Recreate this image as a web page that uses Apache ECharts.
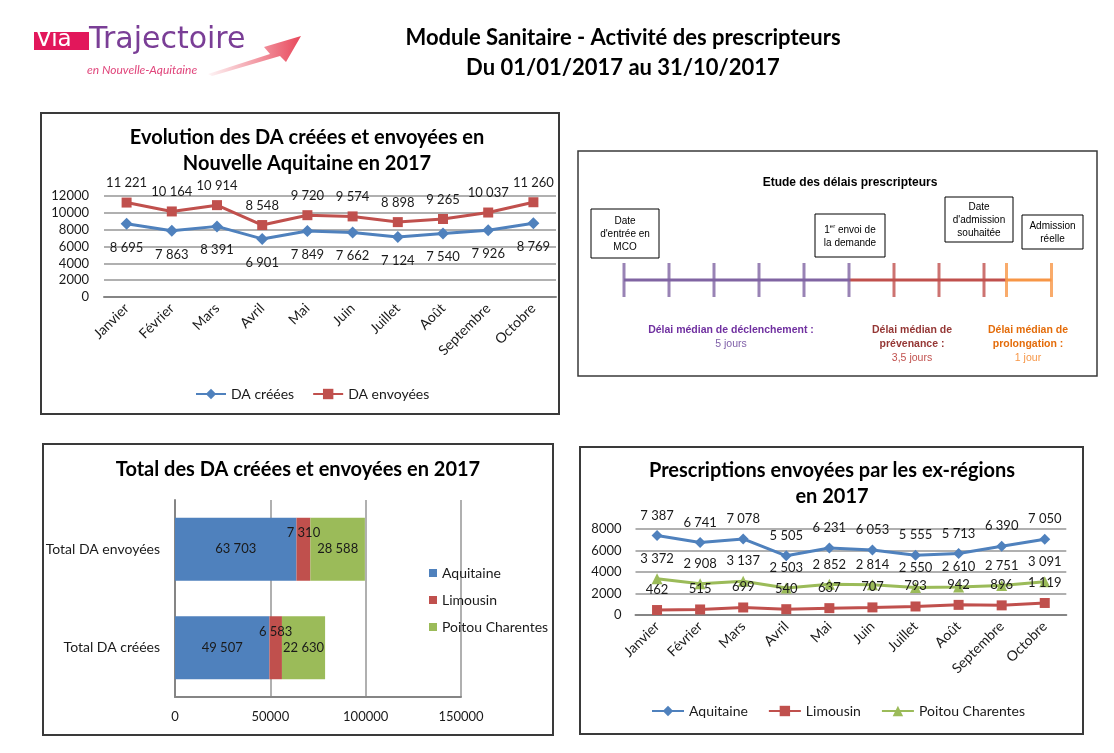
<!DOCTYPE html>
<html><head><meta charset="utf-8">
<script src="https://cdn.jsdelivr.net/npm/echarts@6/dist/echarts.min.js"></script>
<style>html,body{margin:0;padding:0;background:#fff}#c{width:1114px;height:753px}</style>
</head><body><div id="c"></div><script>
// ---- data ----
const months = ['Janvier','Février','Mars','Avril','Mai','Juin','Juillet','Août','Septembre','Octobre'];
const daCreees = [8695,7863,8391,6901,7849,7662,7124,7540,7926,8769];
const daEnvoyees = [11221,10164,10914,8548,9720,9574,8898,9265,10037,11260];
const regions = ['Aquitaine','Limousin','Poitou Charentes'];
const totalCategories = ['Total DA créées','Total DA envoyées'];
const totalAquitaine = [49507,63703];
const totalLimousin = [6583,7310];
const totalPoitou = [22630,28588];
const prescAquitaine = [7387,6741,7078,5505,6231,6053,5555,5713,6390,7050];
const prescLimousin = [462,515,699,540,637,707,793,942,896,1119];
const prescPoitou = [3372,2908,3137,2503,2852,2814,2550,2610,2751,3091];
const phaseNames = ['déclenchement','prévenance','prolongation'];
const phaseDays = [5,3.5,1];
const timelineTicks = [0,1,2,3,4,5,6,7,8,8.5,9.5];
const tickPhase = [0,0,0,0,0,0,1,1,1,2,2];
const milestones = ["Date\nd'entrée en\nMCO","{a|1}{s|er}{a| envoi de}\n{a|la demande}","Date\nd'admission\nsouhaitée","Admission\nréelle"];

// ---- helpers ----
const fmt = v => String(v).replace(/\B(?=(\d{3})+(?!\d))/g,' ');
const plain = v => String(v);
const F = 'Lato, "Open Sans", sans-serif';
const AF = '"Liberation Sans", Arial, sans-serif';
const cBlue = '#4F81BD', cRed = '#C0504D', cGreen = '#9BBB59';
const phaseColors = ['#8064A2','#C0504D','#F79646'];
const phaseTitleColors = ['#7030A0','#953735','#E46C0A'];
const phaseValColors = ['#7F5FA8','#C0504D','#F79646'];
const gridCol = '#969696', axisCol = '#858585';

const chart = echarts.init(document.getElementById('c'));

// timeline series
let starts = [], acc = 0;
phaseDays.forEach(d => { starts.push(acc); acc += d; });
const timelineSeries = phaseDays.map((d,i) => ({
  type:'line', xAxisIndex:3, yAxisIndex:3, symbol:'none', silent:true,
  lineStyle:{color:phaseColors[i], width:3},
  data:[[starts[i],0.5],[starts[i]+d,0.5]], z:2
}));
timelineSeries.push({
  type:'scatter', xAxisIndex:3, yAxisIndex:3, silent:true, z:3,
  symbol:'rect', symbolSize:[3,34],
  data: timelineTicks.map((t,i) => ({value:[t,0.5], itemStyle:{color:phaseColors[tickPhase[i]]}}))
});

const lineBase = (name, data, color, symbol, size, xi, pos, dist) => ({
  name, type:'line', xAxisIndex:xi, yAxisIndex:xi, data, symbol, symbolSize:size,
  color, lineStyle:{color, width:3}, itemStyle:{color, borderWidth:0},
  label:{show:true, position:pos, distance:dist, formatter:p=>fmt(p.value), color:'#1a1a1a', fontFamily:F, fontSize:13},
  animation:false
});

const barBase = (name, data, color, lblOffset) => ({
  name, type:'bar', stack:'tot', xAxisIndex:1, yAxisIndex:1, data, barWidth:63,
  itemStyle:{color}, animation:false,
  label:{show:true, position:'inside', offset:lblOffset, formatter:p=>fmt(p.value), color:'#1a1a1a', fontFamily:F, fontSize:13}
});

// phase texts
const phaseTextX = [731, 912, 1028];
const phaseTitles = ['Délai médian de '+phaseNames[0]+' :', 'Délai médian de\n'+phaseNames[1]+' :', 'Délai médian de\n'+phaseNames[2]+' :'];
const phaseGraphics = [];
phaseDays.forEach((d,i) => {
  const lines = phaseTitles[i].split('\n').length;
  phaseGraphics.push({type:'text', silent:true, style:{x:phaseTextX[i], y:323, text:phaseTitles[i], font:'bold 10.5px '+AF, fill:phaseTitleColors[i], align:'center', verticalAlign:'top', lineHeight:14}});
  phaseGraphics.push({type:'text', silent:true, style:{x:phaseTextX[i], y:323+14*lines, text:String(d).replace('.',',')+(d>1?' jours':' jour'), font:'10.5px '+AF, fill:phaseValColors[i], align:'center', verticalAlign:'top', lineHeight:14}});
});

const boxes = [
  {x:591,y:209,w:68,h:49},
  {x:815,y:214,w:70,h:43},
  {x:945,y:197,w:68,h:45},
  {x:1022,y:215,w:61,h:34}
];
const boxGraphics = [];
boxes.forEach((b,i) => {
  boxGraphics.push({type:'rect', silent:true, shape:{x:b.x,y:b.y,width:b.w,height:b.h}, style:{fill:'#fff', stroke:'#000', lineWidth:1}});
  const st = {x:b.x+b.w/2, y:b.y+b.h/2+1, text:milestones[i], font:'10px '+AF, fill:'#000', align:'center', verticalAlign:'middle', lineHeight:13};
  if (i === 1) st.rich = {a:{font:'10px '+AF, fill:'#000', lineHeight:13}, s:{font:'6px '+AF, fill:'#000', verticalAlign:'top', lineHeight:13}};
  boxGraphics.push({type:'text', silent:true, style:st});
});

const frame = (x,y,w,h,lw) => ({type:'rect', silent:true, shape:{x,y,width:w,height:h}, style:{fill:'none', stroke:'#3a3a3a', lineWidth:lw||2}});
const ttl = (x,y,text,size,lh) => ({type:'text', silent:true, style:{x,y,text,font:'bold '+size+'px '+F, fill:'#000', align:'center', verticalAlign:'middle', lineHeight:lh||size+6}});

const option = {
  backgroundColor:'#fff',
  animation:false,
  textStyle:{fontFamily:F},
  grid:[
    {left:104, top:196, width:452, height:101},
    {left:175, top:500, width:286, height:197},
    {left:635.5, top:529, width:430.8, height:86},
    {left:624, top:263, width:427.5, height:34}
  ],
  xAxis:[
    {gridIndex:0, type:'category', data:months, boundaryGap:true,
     axisLine:{lineStyle:{color:axisCol, width:2}}, axisTick:{show:false},
     axisLabel:{rotate:45, margin:9, fontSize:14, color:'#1a1a1a', fontFamily:F}},
    {gridIndex:1, type:'value', min:0, max:150000, interval:50000,
     axisLine:{show:true, lineStyle:{color:axisCol, width:2}}, axisTick:{show:false},
     splitLine:{lineStyle:{color:gridCol, width:1.5}},
     axisLabel:{margin:13, fontSize:13, color:'#1a1a1a', fontFamily:F, formatter:plain}},
    {gridIndex:2, type:'category', data:months, boundaryGap:true,
     axisLine:{lineStyle:{color:axisCol, width:2}}, axisTick:{show:false},
     axisLabel:{rotate:45, margin:9, fontSize:14, color:'#1a1a1a', fontFamily:F}},
    {gridIndex:3, type:'value', min:0, max:9.5, show:false}
  ],
  yAxis:[
    {gridIndex:0, type:'value', min:0, max:12000, interval:2000,
     axisLine:{show:false}, axisTick:{show:false},
     splitLine:{lineStyle:{color:gridCol, width:1.5}},
     axisLabel:{margin:15, fontSize:13, color:'#1a1a1a', fontFamily:F, formatter:plain}},
    {gridIndex:1, type:'category', data:totalCategories,
     axisLine:{show:true, lineStyle:{color:axisCol, width:2}}, axisTick:{show:false},
     axisLabel:{margin:15, fontSize:14, color:'#1a1a1a', fontFamily:F}},
    {gridIndex:2, type:'value', min:0, max:8000, interval:2000,
     axisLine:{show:false}, axisTick:{show:false},
     splitLine:{lineStyle:{color:gridCol, width:1.5}},
     axisLabel:{margin:14, fontSize:13, color:'#1a1a1a', fontFamily:F, formatter:plain}},
    {gridIndex:3, type:'value', min:0, max:1, show:false}
  ],
  legend:[
    {data:['DA créées','DA envoyées'], left:195, top:387, padding:0, itemWidth:30, itemHeight:13, itemGap:18,
     textStyle:{fontSize:14, color:'#1a1a1a', fontFamily:F}},
    {data:regions.map(r=>({name:r, icon:'rect'})), orient:'vertical', left:429, top:566, padding:0, itemWidth:8, itemHeight:8, itemGap:13,
     itemStyle:{borderWidth:0}, textStyle:{fontSize:14, color:'#1a1a1a', fontFamily:F}},
    {data:regions, left:651, top:704, padding:0, itemWidth:32, itemHeight:13, itemGap:20,
     textStyle:{fontSize:14, color:'#1a1a1a', fontFamily:F}}
  ],
  series:[
    lineBase('DA créées', daCreees, cBlue, 'diamond', 12, 0, 'bottom', 11),
    lineBase('DA envoyées', daEnvoyees, cRed, 'rect', 10, 0, 'top', 8),
    lineBase('Aquitaine', prescAquitaine, cBlue, 'diamond', 11, 2, 'top', 8),
    lineBase('Limousin', prescLimousin, cRed, 'rect', 10, 2, 'top', 9),
    lineBase('Poitou Charentes', prescPoitou, cGreen, 'triangle', 11, 2, 'top', 8),
    barBase('Aquitaine', totalAquitaine, cBlue, [0,0]),
    barBase('Limousin', totalLimousin, cRed, [0,-16]),
    barBase('Poitou Charentes', totalPoitou, cGreen, [0,0])
  ].concat(timelineSeries),
  graphic:[
    // logo
    {type:'rect', silent:true, shape:{x:34,y:32,width:55,height:18}, style:{fill:'#E2175B'}},
    {type:'text', silent:true, style:{x:36,y:52,text:'Via',font:'23px "DejaVu Sans", sans-serif',fill:'#fff',verticalAlign:'bottom'}},
    {type:'text', silent:true, style:{x:89,y:55,text:'Trajectoire',font:'30px "DejaVu Sans", sans-serif',fill:'#7A3E96',verticalAlign:'bottom'}},
    {type:'text', silent:true, style:{x:87,y:70,text:'en Nouvelle-Aquitaine',font:'italic 12px '+F,fill:'#E0457B',verticalAlign:'middle'}},
    {type:'polygon', silent:true, shape:{points:[[208,74],[270,54],[264,47],[301,36],[286,62],[280,56],[212,76]]},
     style:{fill:new echarts.graphic.LinearGradient(0,0,1,0,[{offset:0,color:'rgba(232,72,91,0.05)'},{offset:1,color:'#E8485B'}])}},
    // main title
    ttl(623,53,'Module Sanitaire - Activité des prescripteurs\nDu 01/01/2017 au 31/10/2017',22,30),
    // frames
    frame(41,113,518,301),
    frame(578,151,519,225,1.5),
    frame(43,444,510,291),
    frame(580,447,503,287),
    // panel titles
    ttl(307,151,'Evolution des DA créées et envoyées en\nNouvelle Aquitaine en 2017',20,26),
    ttl(298,470,'Total des DA créées et envoyées en 2017',20),
    ttl(832,484,'Prescriptions envoyées par les ex-régions\nen 2017',20,26),
    {type:'text', silent:true, style:{x:850,y:183,text:'Etude des délais prescripteurs',font:'bold 12px '+AF,fill:'#000',align:'center',verticalAlign:'middle'}}
  ].concat(boxGraphics, phaseGraphics)
};
chart.setOption(option);
</script></body></html>
